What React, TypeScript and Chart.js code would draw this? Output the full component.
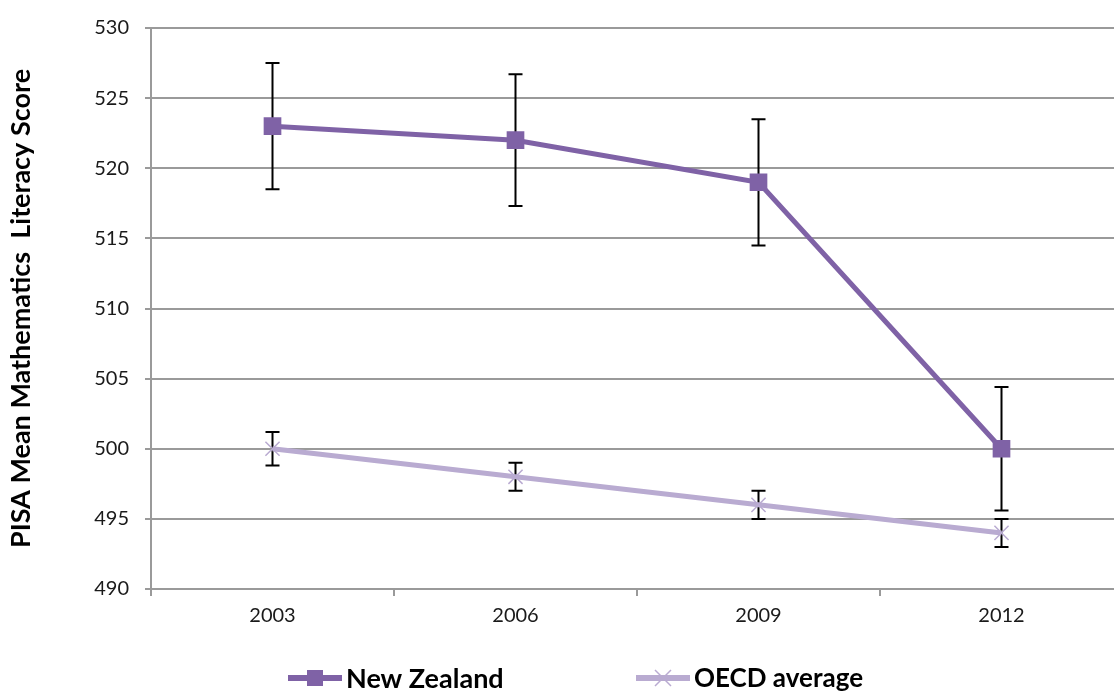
import React, { useEffect, useRef } from "react";
import { Chart, registerables } from "chart.js";

Chart.register(...registerables);

const categories = ["2003", "2006", "2009", "2012"];
const nzScores = [523, 522, 519, 500];
const nzErrors = [4.5, 4.7, 4.5, 4.4];
const oecdScores = [500, 498, 496, 494];
const oecdErrors = [1.2, 1.0, 1.0, 1.0];
const yTitle = "PISA Mean Mathematics  Literacy Score";
const seriesNames = ["New Zealand", "OECD average"];

const NZ_COLOR = "#7f62a6";
const OECD_COLOR = "#b9abd1";
const GRID = "#9a9a9a";
const FONT = "Lato, 'Open Sans', sans-serif";

const errorBarPlugin = {
  id: "errorBars",
  beforeDatasetsDraw(chart: any) {
    const ctx = chart.ctx;
    const y = chart.scales.y;
    ctx.save();
    ctx.strokeStyle = "#000";
    ctx.lineWidth = 2;
    chart.data.datasets.forEach((ds: any, i: number) => {
      const meta = chart.getDatasetMeta(i);
      const errs: number[] = ds.errors || [];
      meta.data.forEach((pt: any, j: number) => {
        const v = ds.data[j];
        const e = errs[j];
        if (e == null) return;
        const x = pt.x;
        const top = y.getPixelForValue(v + e);
        const bot = y.getPixelForValue(v - e);
        ctx.beginPath();
        ctx.moveTo(x, top);
        ctx.lineTo(x, bot);
        ctx.moveTo(x - 7, top);
        ctx.lineTo(x + 7, top);
        ctx.moveTo(x - 7, bot);
        ctx.lineTo(x + 7, bot);
        ctx.stroke();
      });
    });
    ctx.restore();
  },
};

const legendPlugin = {
  id: "customLegend",
  afterDraw(chart: any) {
    const ctx = chart.ctx;
    const cy = 678;
    const items = [
      { x: 288, color: NZ_COLOR, marker: "rect", label: seriesNames[0], size: 27 },
      { x: 636, color: OECD_COLOR, marker: "x", label: seriesNames[1], size: 26 },
    ];
    ctx.save();
    items.forEach((it) => {
      ctx.strokeStyle = it.color;
      ctx.lineWidth = 6;
      ctx.beginPath();
      ctx.moveTo(it.x, cy);
      ctx.lineTo(it.x + 54, cy);
      ctx.stroke();
      const mx = it.x + 27;
      if (it.marker === "rect") {
        ctx.fillStyle = it.color;
        ctx.fillRect(mx - 8, cy - 8, 16, 16);
      } else {
        ctx.lineWidth = 1.5;
        ctx.beginPath();
        ctx.moveTo(mx - 8, cy - 8);
        ctx.lineTo(mx + 8, cy + 8);
        ctx.moveTo(mx + 8, cy - 8);
        ctx.lineTo(mx - 8, cy + 8);
        ctx.stroke();
      }
      ctx.fillStyle = "#000";
      ctx.font = `bold ${it.size}px ${FONT}`;
      ctx.textAlign = "left";
      ctx.textBaseline = "middle";
      ctx.fillText(it.label, it.x + 58, cy + 1);
    });
    ctx.restore();
  },
};

export default function App() {
  const ref = useRef<HTMLCanvasElement | null>(null);
  useEffect(() => {
    if (!ref.current) return;
    const chart = new Chart(ref.current, {
      type: "line",
      data: {
        labels: categories,
        datasets: [
          {
            label: seriesNames[0],
            data: nzScores,
            errors: nzErrors,
            borderColor: NZ_COLOR,
            backgroundColor: NZ_COLOR,
            borderWidth: 5,
            pointStyle: "rect",
            pointRadius: 12.5,
            pointBorderWidth: 0,
            pointBackgroundColor: NZ_COLOR,
            tension: 0,
          } as any,
          {
            label: seriesNames[1],
            data: oecdScores,
            errors: oecdErrors,
            borderColor: OECD_COLOR,
            backgroundColor: OECD_COLOR,
            borderWidth: 5,
            pointStyle: "crossRot",
            pointRadius: 10,
            pointBorderWidth: 1.5,
            pointBorderColor: OECD_COLOR,
            tension: 0,
          } as any,
        ],
      },
      options: {
        responsive: false,
        animation: false,
        devicePixelRatio: 1,
        layout: { padding: { top: 27, right: 17, left: 0, bottom: 0 } },
        plugins: {
          legend: { display: false },
          tooltip: { enabled: false },
        },
        scales: {
          x: {
            type: "category",
            offset: true,
            grid: {
              offset: true,
              drawOnChartArea: false,
              drawTicks: true,
              tickLength: 7,
              color: GRID,
              lineWidth: 2,
            },
            border: { display: true, color: GRID, width: 2 },
            ticks: {
              font: { family: FONT, size: 20 },
              color: "#1a1a1a",
              padding: 8,
            },
            afterFit(scale: any) {
              scale.height = 102;
            },
          },
          y: {
            min: 490,
            max: 530,
            ticks: {
              stepSize: 5,
              font: { family: FONT, size: 20 },
              color: "#1a1a1a",
              padding: 16,
            },
            grid: { color: GRID, lineWidth: 2, tickLength: 6 },
            border: { display: true, color: GRID, width: 2 },
            title: {
              display: true,
              text: yTitle,
              font: { family: FONT, size: 27, weight: "bold" },
              color: "#000",
              padding: { top: 5, bottom: 0 },
            },
            afterFit(scale: any) {
              scale.width = 151;
            },
          },
        },
      },
      plugins: [errorBarPlugin, legendPlugin],
    });
    return () => chart.destroy();
  }, []);
  return (
    <div
      style={{
        position: "fixed",
        left: 0,
        top: 0,
        width: 1114,
        height: 691,
        overflow: "hidden",
        background: "#fff",
      }}
    >
      <canvas ref={ref} width={1140} height={691} style={{ display: "block" }} />
    </div>
  );
}
